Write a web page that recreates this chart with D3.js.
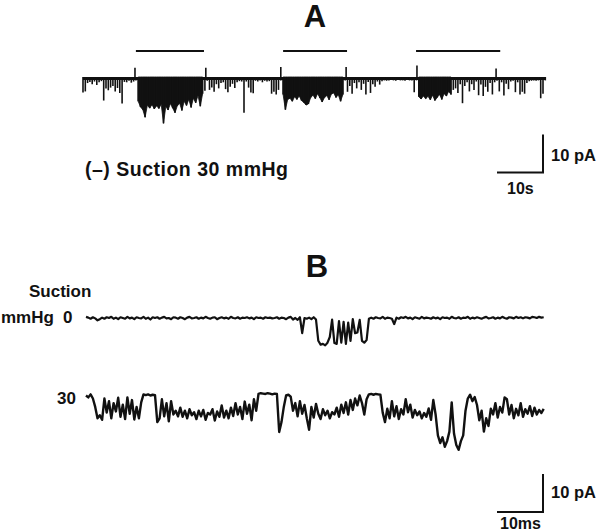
<!DOCTYPE html>
<html>
<head>
<meta charset="utf-8">
<script src="https://cdn.jsdelivr.net/npm/d3@7"></script>
<style>
  html, body { margin: 0; padding: 0; background: #fff; }
  svg text { font-family: "Liberation Sans", Arial, Helvetica, sans-serif; font-weight: bold; fill: #111; }
</style>
</head>
<body>
<svg id="chart" width="600" height="531"></svg>
<script>
// ---------------- DATA ----------------
// Panel A: slow time-base record (seconds), 30 mmHg suction applied three times.
const traceA_dt = 0.5; // s per bin
// lower envelope (most negative current, pA) of each 0.5 s bin
const traceA_min = [
  -3.7,-3.4,-1.2,-0.9,-1.5,-0.8,-1.7,-1.0,-0.7,-5.8,
  -2.6,-3.1,-2.4,-2.0,-3.4,-2.5,-3.8,-6.6,-0.9,-1.0,
  -0.6,-1.1,-0.8,-0.5,-6.0,-7.5,-8.2,-10.2,-7.0,-7.8,
  -6.9,-8.0,-7.2,-7.9,-6.8,-11.8,-7.4,-8.3,-6.6,-7.8,
  -9.0,-7.2,-6.5,-8.4,-6.0,-7.1,-5.5,-7.6,-5.2,-6.4,
  -4.5,-7.3,-4.0,-3.2,-0.6,-3.0,-2.4,-3.5,-1.5,-2.6,
  -1.2,-1.0,-2.8,-3.6,-2.2,-1.4,-2.5,-1.0,-0.7,-0.8,
  -9.0,-0.8,-2.4,-3.7,-3.9,-0.6,-0.8,-0.5,-1.0,-0.6,
  -0.8,-0.7,-4.0,-3.5,-4.2,-3.0,-0.5,-4.2,-8.2,-5.5,
  -5.2,-6.0,-4.8,-5.5,-4.6,-5.8,-6.3,-7.0,-6.7,-5.0,
  -4.4,-5.3,-4.0,-5.1,-6.2,-5.0,-4.5,-5.6,-4.1,-3.8,
  -5.0,-4.3,-6.0,-4.2,-0.5,-3.5,-2.0,-4.0,-1.2,-2.6,
  -1.0,-3.0,-1.4,-4.2,-0.9,-3.8,-1.5,-2.2,-0.8,-1.6,
  -0.7,-0.5,-0.6,-0.5,-0.4,-0.5,-0.6,-0.4,-0.5,-0.5,
  -0.6,-0.4,-0.5,-0.5,-3.6,-0.5,-4.8,-5.4,-4.6,-5.3,
  -4.7,-5.6,-4.4,-5.8,-5.0,-4.2,-5.5,-4.0,-4.6,-3.4,
  -4.2,-3.0,-2.6,-3.8,-1.5,-6.5,-2.0,-1.0,-3.4,-1.5,
  -3.0,-0.8,-4.4,-1.6,-4.6,-2.2,-3.5,-1.2,-4.2,-1.0,
  -0.6,-3.4,-1.0,-4.5,-1.4,-2.8,-0.8,-0.6,-3.6,-1.0,
  -4.2,-3.5,-4.0,-1.2,-0.7,-0.6,-0.5,-0.6,-0.5,-5.2,
  -4.0,-0.5
];
const traceA_max = 0.4; // upper edge of baseline noise, pA
// brief outward transients at suction on/off (s, pA)
const spikeUp_t   = [11.3, 26.7, 43.0, 57.2, 72.6, 89.8];
const spikeUp_amp = [2.8, 2.8, 3.0, 3.0, 3.4, 2.6];
// suction periods marked by bars (s)
const suctionStart = [11.5, 43.5, 72.4];
const suctionEnd   = [26.3, 57.4, 90.7];
// periods of sustained (overlapping) openings in the record (s)
const burstStart = [11.8, 43.4, 72.9];
const burstEnd   = [26.4, 56.6, 80.2];

// Panel B: fast time-base records (ms), 0.5 ms per sample
const traceB_dt = 0.5;
const traceB_0mmHg = [
  0.3,0.1,-0.2,0.2,-0.1,-0.6,-0.3,0.1,-0.2,0.2,
  0.0,0.3,-0.2,0.1,-0.3,0.2,0.0,-0.2,0.3,-0.1,
  0.1,-0.3,0.2,0.0,-0.1,0.3,-0.2,0.1,-0.4,0.2,
  0.0,0.2,-0.2,0.1,0.3,-0.1,0.0,-0.3,0.2,0.1,
  -0.2,0.2,0.0,-0.3,0.1,0.3,-0.1,0.0,0.2,-0.2,
  0.1,-0.1,0.3,0.0,-0.2,0.1,0.2,-0.3,0.0,0.2,
  -0.1,0.1,-0.2,0.3,0.0,-0.1,0.2,-0.2,0.1,0.0,
  0.2,-0.1,0.1,-0.3,0.2,0.0,0.1,-0.2,0.2,0.0,
  0.1,-0.1,0.0,0.2,-0.2,0.1,0.0,-0.3,0.1,0.3,
  -0.4,0.0,-0.5,0.2,-4.0,0.0,-0.2,0.1,-0.3,0.2,
  -0.4,-6.0,-7.0,-6.8,-7.2,-6.5,-5.0,-0.4,-6.6,-6.8,
  -0.8,-6.5,-1.0,-6.8,-1.2,-6.0,-0.3,-4.0,-3.8,-0.5,
  -6.0,-6.5,-5.8,-0.2,0.1,-0.2,0.2,0.0,-0.1,0.3,
  -0.2,0.1,0.0,-0.2,-1.6,0.1,-0.2,0.2,0.0,0.3,
  -0.1,0.1,-0.3,0.2,0.0,-0.2,0.3,-0.1,0.1,0.0,
  -0.2,0.2,-0.1,0.1,-0.3,0.2,0.0,0.1,-0.2,0.3,
  0.0,-0.1,0.2,-0.2,0.1,0.0,0.3,-0.2,0.1,-0.1,
  0.2,0.0,-0.2,0.1,0.3,-0.1,0.0,0.2,-0.2,0.1,
  -0.1,0.3,0.0,-0.2,0.2,0.1,-0.1,0.3,0.0,0.2,
  -0.1,0.2,0.1,-0.1,0.3,0.2,0.0,0.3,0.1,0.2
];
const traceB_30mmHg = [
  0.0,-0.5,0.3,-0.8,-3.0,-6.0,-5.2,-6.4,-0.8,-4.5,
  -1.5,-6.0,-2.0,-4.2,-0.6,-5.6,-2.4,-6.2,-0.5,-4.8,
  -1.2,-6.3,-3.0,-6.0,-1.8,0.3,0.1,0.3,0.0,0.2,
  0.1,-7.0,-6.0,-1.0,-5.5,-2.0,-6.8,-1.5,-5.0,-4.0,
  -5.5,-3.2,-5.6,-4.0,-6.0,-3.6,-5.2,-4.4,-6.2,-4.0,
  -5.5,-3.8,-6.4,-4.6,-5.0,-3.6,-6.6,-4.2,-5.6,-2.6,
  -5.8,-4.0,-6.0,-3.2,-5.4,-2.0,-5.0,-3.0,-6.2,-1.6,
  -4.8,-2.4,-6.5,-1.0,-4.0,0.4,0.6,0.5,0.4,0.6,
  0.5,0.3,0.5,0.4,-9.6,-7.0,-3.0,0.0,0.2,-0.3,
  -4.0,-2.0,-5.5,-1.5,-4.8,-2.5,-6.0,-9.0,-3.0,-5.8,
  -2.2,-4.8,-6.2,-3.6,-5.2,-4.0,-6.0,-4.4,-5.0,-3.2,
  -5.6,-2.4,-4.6,-1.8,-5.0,-1.2,-3.8,-0.8,-2.6,0.0,
  -2.0,-5.0,-1.0,0.3,0.4,0.2,0.4,0.3,0.2,-4.5,
  -7.0,-3.5,-6.0,-1.5,-5.5,-2.8,-6.2,-3.6,-5.0,-1.0,
  -4.4,-2.4,-5.8,-3.8,-5.2,-4.2,-6.0,-4.6,-5.6,-3.4,
  -6.4,-1.2,-5.0,-10.5,-12.5,-11.0,-13.5,-12.0,-9.5,-1.8,
  -10.0,-13.0,-14.3,-12.0,-10.5,-4.0,-0.8,0.2,-1.5,-0.4,
  -2.5,-6.5,-4.0,-9.5,-6.0,-8.0,-3.5,-5.0,-2.0,-5.8,
  -3.0,-4.5,-0.5,-1.0,-5.0,-2.5,-6.0,-3.5,-5.2,-2.0,
  -5.6,-3.6,-4.8,-2.8,-5.4,-3.2,-5.0,-3.8,-4.6,-3.5
];

// scale-bar sizes
const scaleBarCurrent = 10;   // pA
const scaleBarTimeA = 10;     // s
const scaleBarTimeB = 10;     // ms

// ---------------- DRAW ----------------
const svg = d3.select("#chart");
const ink = "#111";

// Panel A scales
const xA = d3.scaleLinear().domain([0, 100]).range([83, 543]);
const yA = d3.scaleLinear().domain([0, -10]).range([78.5, 116.5]);

svg.append("text").attr("x", 315).attr("y", 27).attr("text-anchor", "middle")
  .attr("font-size", 31).text("A");

// suction bars
svg.append("g").selectAll("line").data(suctionStart).join("line")
  .attr("x1", d => xA(d)).attr("x2", (d, i) => xA(suctionEnd[i]))
  .attr("y1", 51).attr("y2", 51)
  .attr("stroke", ink).attr("stroke-width", 2);

// baseline
svg.append("line")
  .attr("x1", xA(0)).attr("x2", xA((traceA_min.length - 1) * traceA_dt))
  .attr("y1", yA(0)).attr("y2", yA(0))
  .attr("stroke", ink).attr("stroke-width", 3);

// solid fill where openings overlap (bursts)
const inBurst = (i) => {
  const t = i * traceA_dt;
  return burstStart.some((s, k) => t >= s && t <= burstEnd[k]);
};
const areaA = d3.area()
  .defined((d, i) => inBurst(i))
  .x((d, i) => xA(i * traceA_dt))
  .y0(yA(traceA_max))
  .y1(d => yA(d));
svg.append("path").datum(traceA_min).attr("d", areaA).attr("fill", ink)
  .attr("stroke", ink).attr("stroke-width", 0.8);

// individual excursions
svg.append("g").selectAll("line").data(traceA_min).join("line")
  .attr("x1", (d, i) => xA(i * traceA_dt)).attr("x2", (d, i) => xA(i * traceA_dt))
  .attr("y1", yA(traceA_max)).attr("y2", d => yA(d))
  .attr("stroke", ink).attr("stroke-width", 1.6);

// upward transients
svg.append("g").selectAll("line").data(spikeUp_t).join("line")
  .attr("x1", d => xA(d)).attr("x2", d => xA(d))
  .attr("y1", yA(0)).attr("y2", (d, i) => yA(spikeUp_amp[i]))
  .attr("stroke", ink).attr("stroke-width", 1.6);

svg.append("text").attr("x", 85).attr("y", 176).attr("font-size", 19.5)
  .attr("textLength", 203).attr("lengthAdjust", "spacing")
  .text("(–) Suction 30 mmHg");

// scale bar A
const barA = svg.append("g");
const barAx1 = 543, barAlen = xA(scaleBarTimeA) - xA(0);
const barAh = yA(-scaleBarCurrent) - yA(0);
barA.append("path")
  .attr("d", `M${barAx1 - barAlen},172.5 H${barAx1} V${172.5 - barAh}`)
  .attr("fill", "none").attr("stroke", ink).attr("stroke-width", 2);
barA.append("text").attr("x", 551).attr("y", 161).attr("font-size", 16.5)
  .text(scaleBarCurrent + " pA");
barA.append("text").attr("x", 507).attr("y", 194).attr("font-size", 16)
  .text(scaleBarTimeA + "s");

// Panel B
const xB = d3.scaleLinear().domain([0, 100]).range([86, 546]);
const yB0 = d3.scaleLinear().domain([0, -10]).range([318, 356]);
const yB30 = d3.scaleLinear().domain([0, -10]).range([395.5, 433.5]);

svg.append("text").attr("x", 317).attr("y", 277).attr("text-anchor", "middle")
  .attr("font-size", 31).text("B");
svg.append("text").attr("x", 29).attr("y", 297).attr("font-size", 17).text("Suction");
svg.append("text").attr("x", 1).attr("y", 323).attr("font-size", 17).text("mmHg");
svg.append("text").attr("x", 63).attr("y", 323).attr("font-size", 17).text("0");
svg.append("text").attr("x", 57).attr("y", 404).attr("font-size", 17).text("30");

const lineB0 = d3.line().x((d, i) => xB(i * traceB_dt)).y(d => yB0(d));
const lineB30 = d3.line().x((d, i) => xB(i * traceB_dt)).y(d => yB30(d));
svg.append("path").datum(traceB_0mmHg).attr("d", lineB0)
  .attr("fill", "none").attr("stroke", ink).attr("stroke-width", 2.2).attr("stroke-linejoin", "round");
svg.append("path").datum(traceB_30mmHg).attr("d", lineB30)
  .attr("fill", "none").attr("stroke", ink).attr("stroke-width", 2.4).attr("stroke-linejoin", "round");

// scale bar B
const barB = svg.append("g");
const barBlen = xB(scaleBarTimeB) - xB(0);
const barBh = yB30(-scaleBarCurrent) - yB30(0);
barB.append("path")
  .attr("d", `M${543 - barBlen},512 H543 V${512 - barBh}`)
  .attr("fill", "none").attr("stroke", ink).attr("stroke-width", 2);
barB.append("text").attr("x", 551).attr("y", 498).attr("font-size", 16.5)
  .text(scaleBarCurrent + " pA");
barB.append("text").attr("x", 500).attr("y", 529).attr("font-size", 16)
  .text(scaleBarTimeB + "ms");
</script>
</body>
</html>
